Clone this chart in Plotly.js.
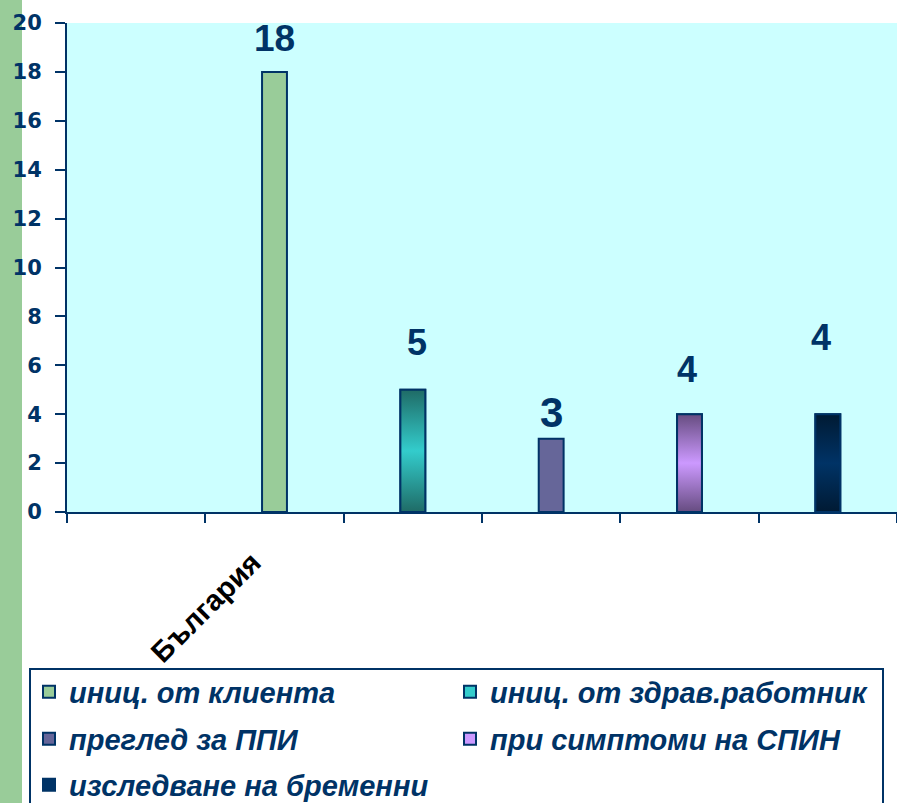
<!DOCTYPE html>
<html>
<head>
<meta charset="utf-8">
<script src="https://cdn.plot.ly/plotly-3.0.1.min.js"></script>
<style>
  html, body { margin: 0; padding: 0; background: #ffffff; }
  #chart { width: 897px; height: 803px; }
</style>
</head>
<body>
<div id="chart"></div>
<script>
// ---- data ----
const category = 'България';
const seriesNames = [
  'иниц. от клиента',
  'иниц. от здрав.работник',
  'преглед за ППИ',
  'при симптоми на СПИН',
  'изследване на бременни'
];
const seriesValues = [18, 5, 3, 4, 4];
const yTickValues = [0, 2, 4, 6, 8, 10, 12, 14, 16, 18, 20];

// ---- styling ----
const navy = '#003366';
const barFill = ['#99CC99', '#33CCCC', '#666699', '#CC99FF', '#003366'];
const barEdgeShade = [null, '#1F6B66', null, '#664C80', '#001A33'];
const labelLift = [33, 47, 26, 45, 77];     // px above the bar top
const labelNudge = [0, 4, 0, -3, -7];       // px sideways
const labelSize = [37, 36, 42, 36, 36];

// plot frame in pixels, and helpers to place paper-referenced items
const plotL = 67, plotW = 830, plotT = 23, plotH = 489;
const W = 897, H = 803;
const px = X => (X - plotL) / plotW;
const py = Y => (plotT + plotH - Y) / plotH;

const slotCount = 6;        // one empty slot, then one slot per series
const barWidth = 0.18;      // in slot units

const traces = [];
seriesNames.forEach((name, i) => {
  const xc = i + 1.5;
  const v = seriesValues[i];
  traces.push({
    type: 'bar',
    name: name,
    x: [xc],
    y: [v],
    width: [barWidth],
    marker: { color: barFill[i], line: { color: navy, width: 2 } },
    legend: i < 2 ? 'legend' : (i < 4 ? 'legend2' : 'legend3'),
    hoverinfo: 'skip'
  });
});
// shaded overlays for the bars drawn with a vertical light band
seriesNames.forEach((name, i) => {
  if (!barEdgeShade[i]) return;
  const xc = i + 1.5, h = barWidth / 2, v = seriesValues[i];
  traces.push({
    type: 'scatter',
    mode: 'lines',
    x: [xc - h, xc - h, xc + h, xc + h, xc - h],
    y: [0, v, v, 0, 0],
    fill: 'toself',
    fillgradient: {
      type: 'vertical',
      colorscale: [[0, barEdgeShade[i]], [0.5, barFill[i]], [1, barEdgeShade[i]]]
    },
    line: { color: navy, width: 2 },
    showlegend: false,
    hoverinfo: 'skip'
  });
});

const annotations = seriesValues.map((v, i) => ({
  xref: 'x', yref: 'y',
  x: i + 1.5, y: v,
  text: String(v),
  showarrow: false,
  xanchor: 'center', yanchor: 'middle',
  xshift: labelNudge[i], yshift: labelLift[i],
  font: { family: 'Liberation Sans, Arial, sans-serif', size: labelSize[i], weight: 'bold', color: navy }
}));

const legendFont = { family: 'Liberation Sans, Arial, sans-serif', size: 29, style: 'italic', weight: 'bold', color: navy };
const legendBase = {
  orientation: 'h',
  xref: 'paper', yref: 'paper',
  x: px(29), xanchor: 'left', yanchor: 'middle',
  entrywidth: 376, entrywidthmode: 'pixels',
  bgcolor: 'rgba(0,0,0,0)', borderwidth: 0,
  itemwidth: 30,
  font: legendFont
};

const layout = {
  width: W, height: H,
  margin: { l: plotL, r: W - plotL - plotW, t: plotT, b: H - plotT - plotH, autoexpand: false },
  paper_bgcolor: '#ffffff',
  plot_bgcolor: '#CCFFFF',
  showlegend: true,
  barmode: 'overlay',
  xaxis: {
    range: [0, slotCount],
    tickmode: 'array',
    tickvals: [1.5],
    ticktext: [category],
    ticks: '',
    tickangle: -45,
    tickfont: { family: 'Liberation Sans, Arial, sans-serif', size: 29, weight: 'bold', color: '#000000' },
    ticklabelstandoff: 20,
    ticklabelshift: -22,
    showline: true, linecolor: navy, linewidth: 2,
    showgrid: false, zeroline: false,
    minor: {
      tickmode: 'array',
      tickvals: Array.from({ length: slotCount + 1 }, (_, k) => k),
      ticks: 'outside', ticklen: 9, tickwidth: 2, tickcolor: navy,
      showgrid: false
    },
    fixedrange: true
  },
  yaxis: {
    range: [0, 20],
    tickmode: 'array',
    tickvals: yTickValues,
    ticktext: yTickValues.map(String),
    ticks: 'outside', ticklen: 10, tickwidth: 2, tickcolor: navy,
    showline: true, linecolor: navy, linewidth: 2,
    showgrid: false, zeroline: false,
    tickfont: { family: 'DejaVu Sans, sans-serif', size: 21, weight: 'bold', color: navy },
    ticklabelstandoff: 9,
    fixedrange: true
  },
  legend: Object.assign({}, legendBase, { y: py(692) }),
  legend2: Object.assign({}, legendBase, { y: py(739) }),
  legend3: Object.assign({}, legendBase, { y: py(785) }),
  annotations: annotations,
  shapes: [
    // green strip along the left edge
    { type: 'rect', xref: 'paper', yref: 'paper', layer: 'below',
      x0: px(0), x1: px(22), y0: py(H + 10), y1: py(-10),
      fillcolor: '#99CC99', line: { width: 0 } },
    // legend frame
    { type: 'rect', xref: 'paper', yref: 'paper', layer: 'above',
      x0: px(30), x1: px(883), y0: py(H + 10), y1: py(669),
      fillcolor: 'rgba(0,0,0,0)', line: { color: navy, width: 2 } }
  ]
};

Plotly.newPlot('chart', traces, layout, { displayModeBar: false, staticPlot: true });
</script>
</body>
</html>
